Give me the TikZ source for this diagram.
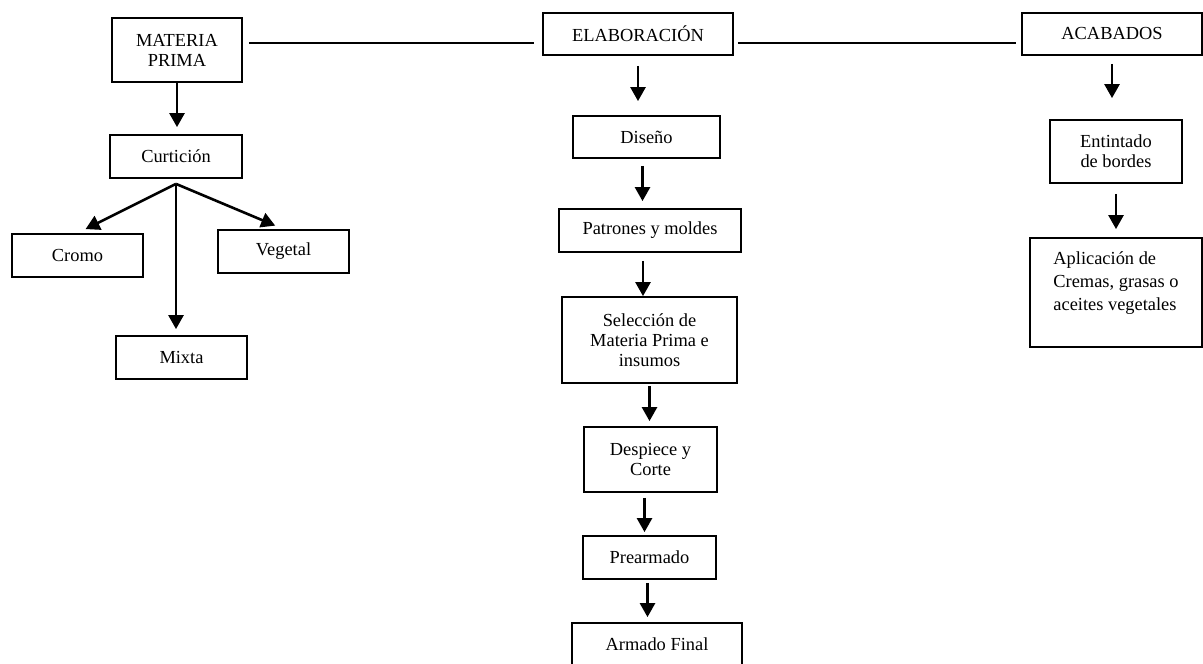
\documentclass[tikz,border=0pt]{standalone}
\usepackage{fontspec}
\setmainfont{Liberation Serif}
\usepackage{tikz}
\usetikzlibrary{arrows.meta}
\usetikzlibrary{calc}

\begin{document}
\begin{tikzpicture}[x=0.5pt, y=-0.5pt, line width=0.9pt,
        box/.style={rectangle, draw, inner sep=1pt, align=center,
          font=\fontsize{9.2}{10}\selectfont},
        arr/.style={line width=1.3pt, -{Triangle[length=7pt,width=7.5pt]}},
      ]
      \useasboundingbox (0,0) rectangle (1203,663);
      % top row
      \node[box, minimum width=65pt, minimum height=32pt] (mp) at (177,50) {MATERIA\\PRIMA};
      \node[box, minimum width=95pt, minimum height=21pt] (elab) at (638,34) {ELABORACIÓN};
      \node[box, minimum width=90pt, minimum height=21pt] (acab) at (1112,34) {ACABADOS};
      \draw ([xshift=3pt,yshift=3.5pt]mp.east) -- ([xshift=-4pt,yshift=-4.5pt]elab.west);
      \draw ([xshift=2pt,yshift=-4.5pt]elab.east) -- ([xshift=-2.5pt,yshift=-4.5pt]acab.west);
      % materia prima
      \node[box, minimum width=66pt, minimum height=21.5pt] (curt) at (176,156.5) {Curtición};
      \node[box, minimum width=65.5pt, minimum height=21.5pt] (cromo) at (77.5,255.5) {Cromo};
      \node[box, minimum width=65.5pt, minimum height=21.5pt] (veg) at (283.5,251.5) {Vegetal};
      \node[box, minimum width=65.5pt, minimum height=21.5pt] (mixta) at (181.5,357.5) {Mixta};
      \coordinate (split) at ([yshift=-2.5pt]curt.south);
      \draw[arr, shorten >=3.5pt] (mp.south) -- (mp.south |- curt.north);
      \draw[arr, shorten >=4.5pt] (split) -- (cromo.north);
      \draw[arr, shorten >=4.5pt] (split) -- (veg.north);
      \draw[arr, shorten >=3pt] (split) -- (split |- mixta.north);
      % elaboracion
      \node[box, minimum width=73.5pt, minimum height=21pt] (dis) at (646.5,137) {Diseño};
      \node[box, minimum width=91pt, minimum height=21.5pt] (pat) at (650,230.5) {Patrones y moldes};
      \node[box, minimum width=87.5pt, minimum height=43pt] (sel) at (649.5,340) {Selección de\\Materia Prima e\\insumos};
      \node[box, minimum width=66.5pt, minimum height=32.5pt] (desp) at (650.5,459.5) {Despiece y\\Corte};
      \node[box, minimum width=66.5pt, minimum height=21.5pt] (pre) at (649.5,557.5) {Prearmado};
      \node[box, minimum width=85pt, minimum height=21.5pt] (arm) at (657,644.5) {Armado Final};
      \draw[arr, shorten <=5pt, shorten >=7pt] (elab.south) -- (elab.south |- dis.north);
      \draw[arr, shorten <=3.5pt, shorten >=3.5pt] ([xshift=-2pt]dis.south) -- ([xshift=-2pt]dis.south |- pat.north);
      \draw[arr, shorten <=4pt] ([xshift=-3.5pt]pat.south) -- ([xshift=-3.5pt]pat.south |- sel.north);
      \draw[arr, shorten <=1pt, shorten >=2.5pt] (sel.south) -- (sel.south |- desp.north);
      \draw[arr, shorten <=2.5pt, shorten >=1.5pt] ([xshift=-3pt]desp.south) -- ([xshift=-3pt]desp.south |- pre.north);
      \draw[arr, shorten <=1.5pt, shorten >=2.5pt] ([xshift=-1pt]pre.south) -- ([xshift=-1pt]pre.south |- arm.north);
      % acabados
      \node[box, minimum width=66pt, minimum height=31.5pt] (ent) at (1116,151.5) {Entintado\\de bordes};
      \node[box, align=left, minimum width=86pt, minimum height=54.5pt,
        font=\fontsize{9.2}{11.5}\selectfont] (apl) at (1116,292.5)
        {Aplicación de\\Cremas, grasas o\\aceites vegetales\\\mbox{}};
      \draw[arr, shorten <=4pt, shorten >=10.5pt] (acab.south) -- (acab.south |- ent.north);
      \draw[arr, shorten <=5pt, shorten >=4pt] (ent.south) -- (ent.south |- apl.north);
    \end{tikzpicture}
\end{document}
